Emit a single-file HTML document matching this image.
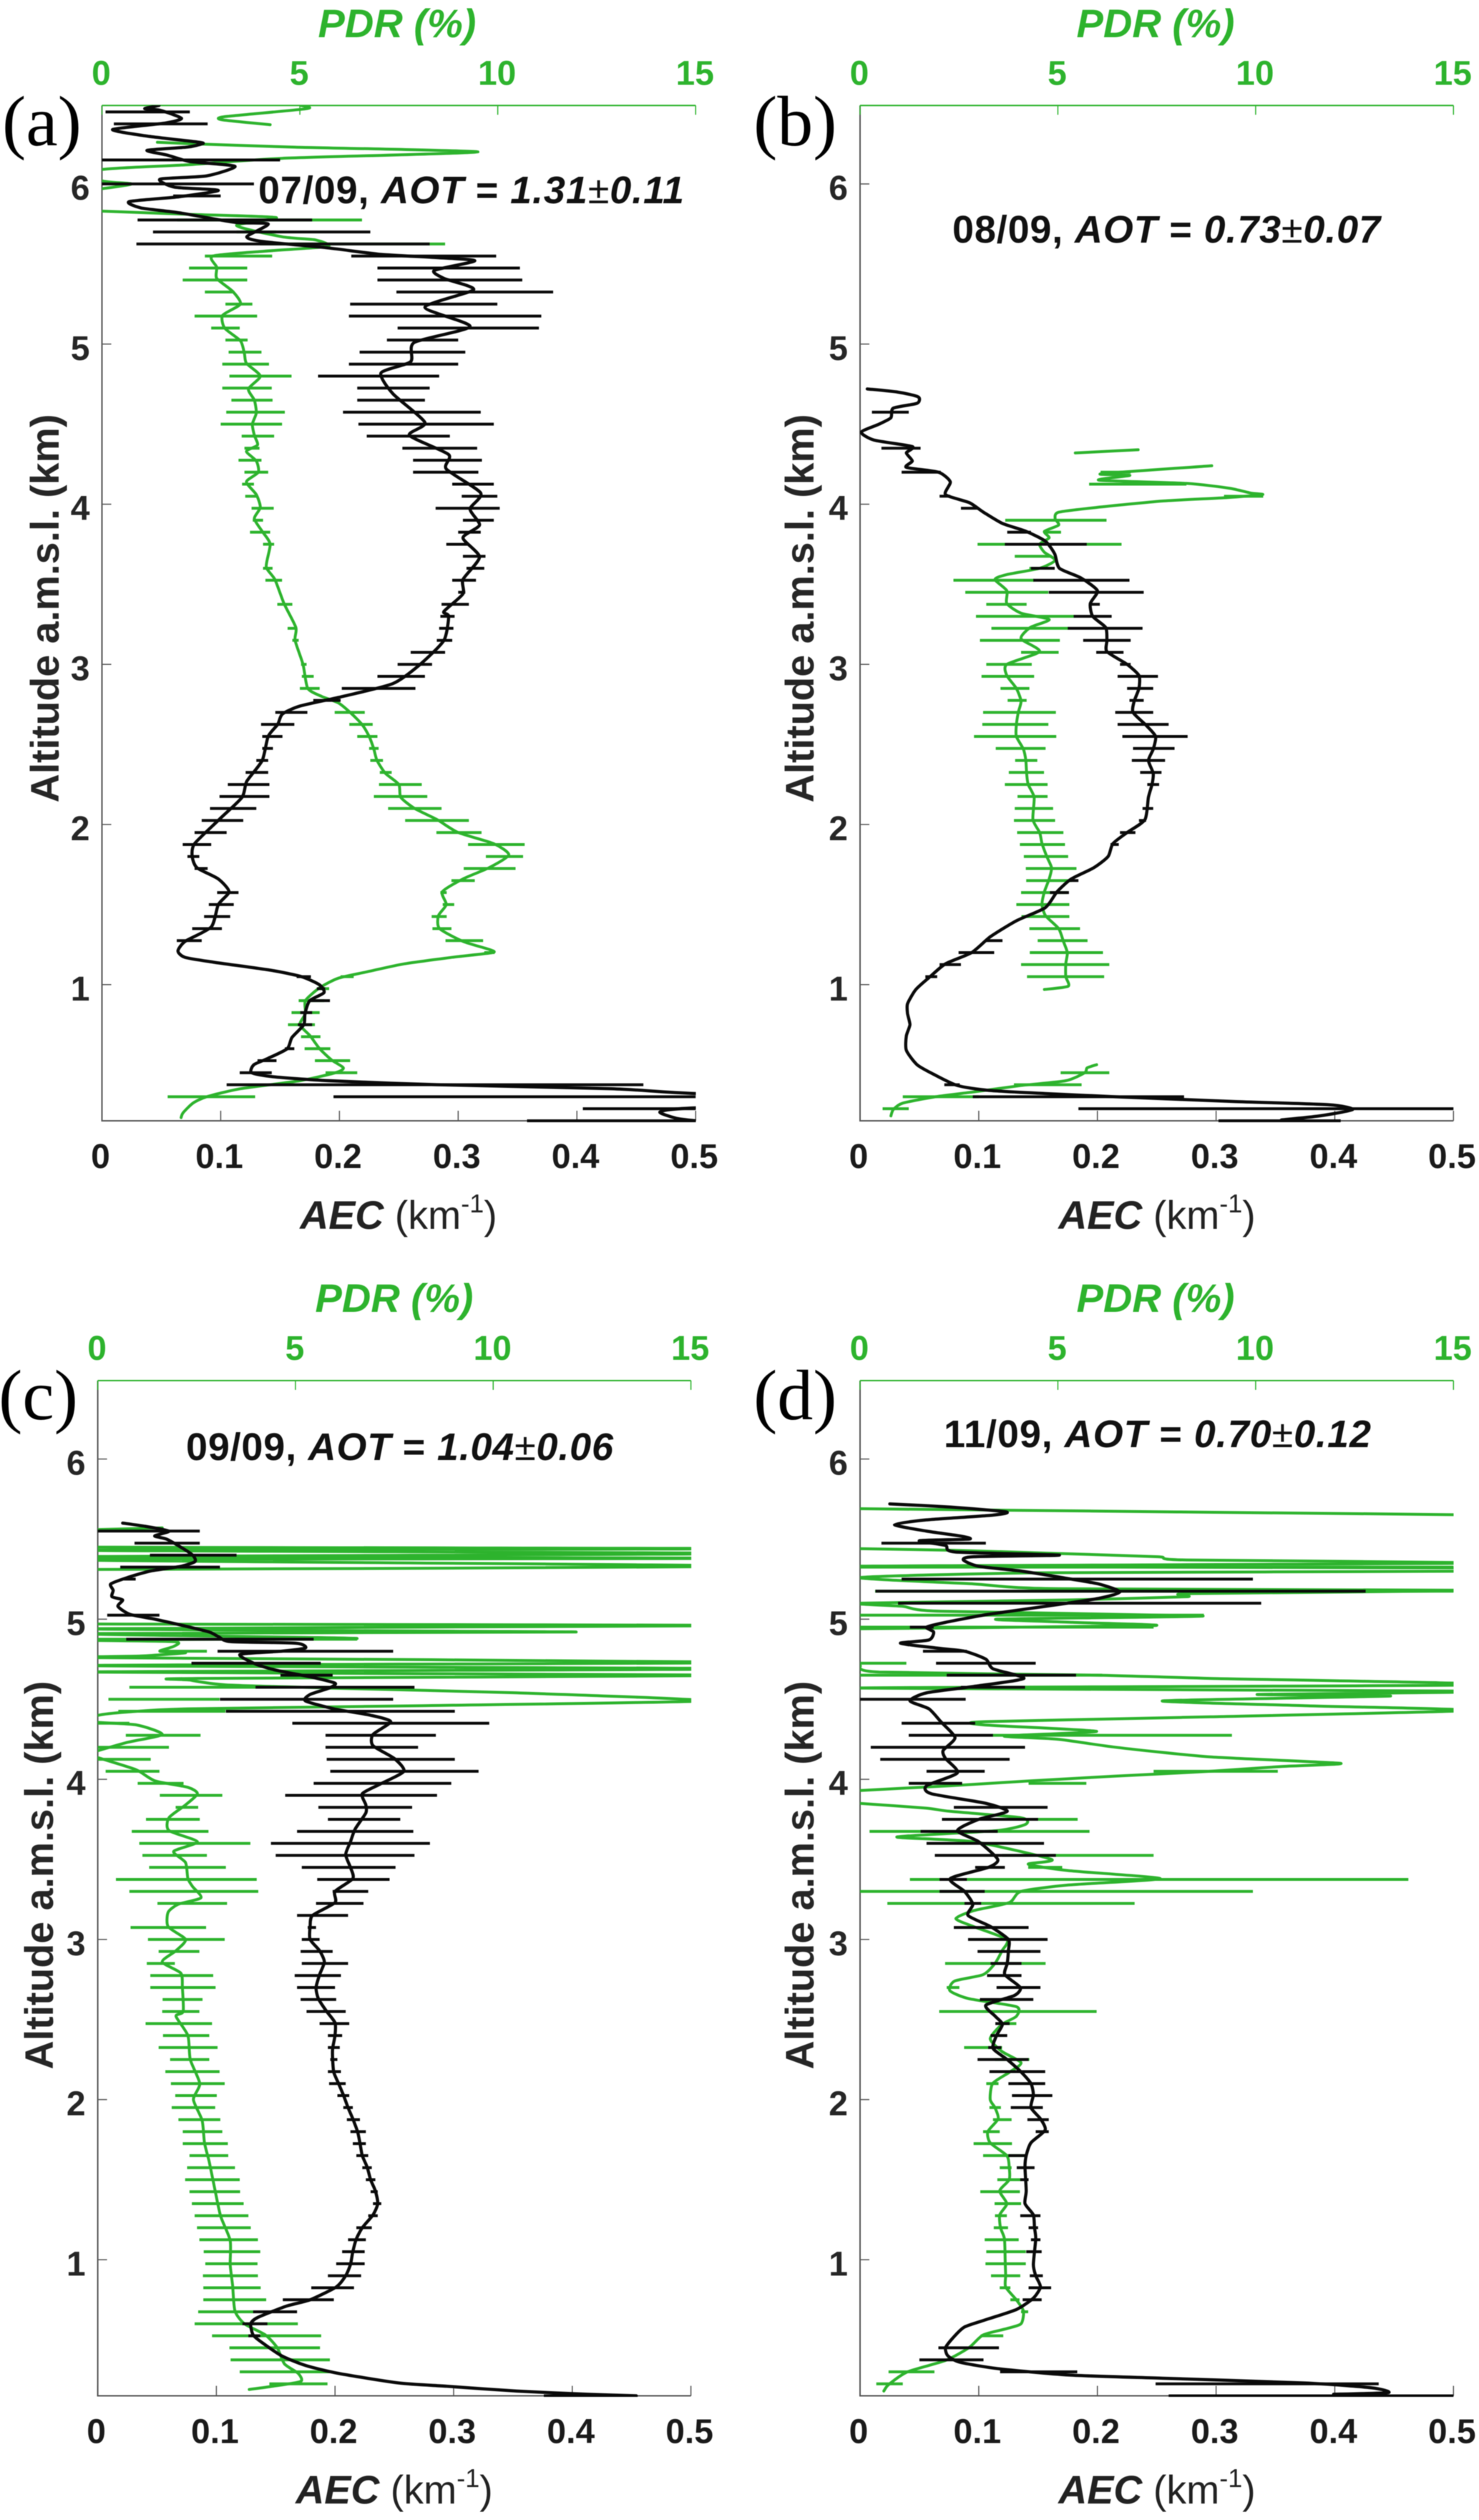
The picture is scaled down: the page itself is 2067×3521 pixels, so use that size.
<!DOCTYPE html>
<html lang="en">
<head>
<meta charset="utf-8">
<title>AEC and PDR vertical profiles</title>
<style>
  html, body { margin: 0; padding: 0; background: #fff; }
  svg { display: block; filter: blur(0.6px); }
  text { font-family: "Liberation Sans", Arial, sans-serif; }
  .panel-label { font-family: "Liberation Serif", "Times New Roman", serif; font-size: 100px; fill: #000; }
  .pdr-title { font-size: 56px; font-weight: bold; font-style: italic; fill: #2db32d; text-anchor: middle; }
  .aec-title { font-size: 55.5px; fill: #222; text-anchor: middle; }
  .alt-title { font-size: 55.5px; font-weight: bold; fill: #262626; text-anchor: middle; }
  .aot { font-size: 54px; font-weight: bold; fill: #111; }
  .tick-alt { font-size: 48px; font-weight: bold; fill: #262626; text-anchor: end; }
  .tick-aec { font-size: 48px; font-weight: bold; fill: #1a1a1a; text-anchor: middle; }
  .tick-pdr { font-size: 48px; font-weight: bold; fill: #2db32d; text-anchor: middle; }
</style>
</head>
<body>
<svg id="figure" xmlns="http://www.w3.org/2000/svg" width="2067" height="3521" viewBox="0 0 2067 3521">
  <rect width="2067" height="3521" fill="#fff"/>
  <defs>
    <clipPath id="clip-a"><rect x="142.5" y="147" width="830" height="1421"/></clipPath>
    <clipPath id="clip-b"><rect x="1202" y="147" width="829.5" height="1421"/></clipPath>
    <clipPath id="clip-c"><rect x="136.6" y="1928" width="829.5" height="1421"/></clipPath>
    <clipPath id="clip-d"><rect x="1202" y="1928" width="829.5" height="1421"/></clipPath>
  </defs>

  <g id="panel-a"></g>
  <g id="panel-b"></g>
  <g id="panel-c"></g>
  <g id="panel-d"></g>

  <text class="panel-label" x="3" y="203">(a)</text>
  <text class="panel-label" x="1053" y="203">(b)</text>
  <text class="panel-label" x="-2" y="1983">(c)</text>
  <text class="panel-label" x="1053" y="1983">(d)</text>

  <text class="pdr-title" x="555" y="52">PDR (%)</text>
  <text class="pdr-title" x="1615" y="52">PDR (%)</text>
  <text class="pdr-title" x="551" y="1833">PDR (%)</text>
  <text class="pdr-title" x="1615" y="1833">PDR (%)</text>

  <text class="aec-title" x="557" y="1717"><tspan font-weight="bold" font-style="italic">AEC</tspan> (km<tspan font-size="36" dy="-23">-1</tspan><tspan dy="23">)</tspan></text>
  <text class="aec-title" x="1617" y="1717"><tspan font-weight="bold" font-style="italic">AEC</tspan> (km<tspan font-size="36" dy="-23">-1</tspan><tspan dy="23">)</tspan></text>
  <text class="aec-title" x="551" y="3498"><tspan font-weight="bold" font-style="italic">AEC</tspan> (km<tspan font-size="36" dy="-23">-1</tspan><tspan dy="23">)</tspan></text>
  <text class="aec-title" x="1617" y="3498"><tspan font-weight="bold" font-style="italic">AEC</tspan> (km<tspan font-size="36" dy="-23">-1</tspan><tspan dy="23">)</tspan></text>

  <text class="alt-title" transform="translate(82 850) rotate(-90)">Altitude a.m.s.l. (km)</text>
  <text class="alt-title" transform="translate(1137 850) rotate(-90)">Altitude a.m.s.l. (km)</text>
  <text class="alt-title" transform="translate(74 2620) rotate(-90)">Altitude a.m.s.l. (km)</text>
  <text class="alt-title" transform="translate(1137 2620) rotate(-90)">Altitude a.m.s.l. (km)</text>

  <text class="aot" x="361" y="284" textLength="595">07/09, <tspan font-style="italic">AOT</tspan> = <tspan font-style="italic">1.31</tspan><tspan font-weight="normal">±</tspan><tspan font-style="italic">0.11</tspan></text>
  <text class="aot" x="1331" y="339" textLength="598">08/09, <tspan font-style="italic">AOT</tspan> = <tspan font-style="italic">0.73</tspan><tspan font-weight="normal">±</tspan><tspan font-style="italic">0.07</tspan></text>
  <text class="aot" x="260" y="2040" textLength="597">09/09, <tspan font-style="italic">AOT</tspan> = <tspan font-style="italic">1.04</tspan><tspan font-weight="normal">±</tspan><tspan font-style="italic">0.06</tspan></text>
  <text class="aot" x="1319" y="2022" textLength="597">11/09, <tspan font-style="italic">AOT</tspan> = <tspan font-style="italic">0.70</tspan><tspan font-weight="normal">±</tspan><tspan font-style="italic">0.12</tspan></text>
</svg>

<script>
// Shared axis ticks
const altTicks = [1, 2, 3, 4, 5, 6];
const aecTicks = [0, 0.1, 0.2, 0.3, 0.4, 0.5];
const aecTickLabels = ['0', '0.1', '0.2', '0.3', '0.4', '0.5'];
const pdrTicks = [0, 5, 10, 15];
const pdrTickLabels = ['0', '5', '10', '15'];

// Panel (a) 07/09
const aAecAlt = [6.49,6.47,6.46,6.41,6.38,6.34,6.30,6.26,6.25,6.23,6.21,6.18,6.14,6.11,6.05,6.03,5.98,5.96,5.92,5.89,5.85,5.82,5.76,5.75,5.67,5.64,5.60,5.56,5.54,5.52,5.46,5.41,5.34,5.23,5.11,5.01,4.89,4.82,4.69,4.51,4.43,4.31,4.22,4.07,3.97,3.87,3.79,3.67,3.53,3.44,3.33,3.30,3.15,3.0,2.88,2.80,2.74,2.69,2.625,2.55,2.40,2.27,2.17,2.04,1.88,1.80,1.73,1.66,1.58,1.50,1.36,1.27,1.21,1.17,1.14,1.09,1.05,1.0,0.95,0.90,0.82,0.75,0.67,0.60,0.54,0.50,0.45,0.425,0.40,0.375,0.35,0.32,0.27,0.23,0.205,0.165,0.15];
const aAecVal = [0.048,0.036,0.049,0.067,0.053,0.009,0.037,0.082,0.084,0.072,0.038,0.055,0.074,0.112,0.088,0.049,0.061,0.098,0.065,0.023,0.033,0.065,0.112,0.14,0.122,0.136,0.191,0.235,0.282,0.314,0.28,0.288,0.313,0.272,0.31,0.263,0.26,0.235,0.245,0.272,0.259,0.292,0.29,0.319,0.31,0.318,0.304,0.318,0.304,0.304,0.288,0.292,0.288,0.268,0.245,0.203,0.167,0.152,0.148,0.14,0.135,0.122,0.118,0.10,0.078,0.076,0.08,0.098,0.107,0.098,0.092,0.07,0.064,0.07,0.094,0.142,0.168,0.183,0.187,0.175,0.171,0.17,0.16,0.156,0.14,0.128,0.126,0.144,0.191,0.282,0.429,0.5,0.7,0.5,0.47,0.484,0.5];
const aAecBarAlt = [6.45,6.375,6.15,6.0,5.925,5.775,5.7,5.625,5.55,5.475,5.4,5.325,5.25,5.175,5.1,5.025,4.95,4.875,4.8,4.725,4.65,4.575,4.5,4.425,4.35,4.275,4.2,4.125,4.05,3.975,3.9,3.825,3.75,3.675,3.6,3.525,3.45,3.375,3.3,3.225,3.15,3.075,3.0,2.925,2.85,2.775,2.7,2.625,2.55,2.475,2.4,2.325,2.25,2.175,2.1,2.025,1.95,1.875,1.8,1.725,1.575,1.5,1.425,1.35,1.275,1.05,0.975,0.9,0.825,0.75,0.6,0.525,0.45,0.375,0.3,0.225,0.15];
const aAecBarLow = [0.003,0.01,0,0,0.06,0.03,0.043,0.029,0.21,0.232,0.232,0.248,0.209,0.208,0.249,0.24,0.217,0.208,0.182,0.215,0.215,0.203,0.216,0.223,0.253,0.262,0.262,0.295,0.303,0.281,0.304,0.30,0.29,0.304,0.307,0.295,0.30,0.286,0.285,0.284,0.282,0.26,0.249,0.232,0.202,0.178,0.146,0.134,0.135,0.135,0.13,0.121,0.106,0.099,0.091,0.084,0.078,0.068,0.072,0.078,0.097,0.09,0.086,0.076,0.063,0.164,0.181,0.175,0.167,0.165,0.154,0.131,0.116,0.105,0.195,0.405,0.358];
const aAecBarHigh = [0.074,0.089,0.15,0.128,0.10,0.177,0.226,0.276,0.332,0.352,0.354,0.38,0.333,0.37,0.368,0.30,0.306,0.30,0.284,0.276,0.272,0.319,0.33,0.293,0.316,0.32,0.317,0.33,0.333,0.335,0.33,0.319,0.309,0.323,0.322,0.315,0.306,0.309,0.297,0.296,0.295,0.289,0.278,0.272,0.264,0.201,0.173,0.162,0.152,0.144,0.14,0.14,0.141,0.141,0.13,0.119,0.105,0.092,0.082,0.089,0.115,0.111,0.108,0.101,0.084,0.176,0.188,0.192,0.177,0.177,0.162,0.147,0.143,0.456,0.5,0.5,0.5];
const aPdrAlt = [6.49,6.47,6.42,6.40,6.37,null,6.26,6.25,6.23,6.2,6.16,6.12,6.09,6.02,6.0,5.97,null,5.83,5.81,5.79,5.74,5.67,5.65,5.61,5.58,5.55,5.48,5.41,5.33,5.25,5.18,5.1,5.02,4.94,4.88,4.8,4.72,4.65,4.57,4.5,4.43,4.37,4.33,4.27,4.2,4.14,4.06,3.98,3.91,3.83,3.75,3.61,3.53,3.38,3.23,3.15,3,2.85,2.8,2.76,2.7,2.625,2.55,2.47,2.4,2.32,2.25,2.17,2.1,2.03,1.95,1.88,1.81,1.73,1.66,1.58,1.5,1.43,1.35,1.27,1.22,1.2,1.17,1.13,1.08,1.04,0.98,0.9,0.82,0.75,0.68,0.6,0.53,0.48,0.45,0.4,0.35,0.3,0.26,0.2,0.17];
const aPdrVal = [5.03,5.18,3.1,3.05,4.25,null,1.4,2.4,4.8,9.5,4.55,2.2,0,0,0.75,0,null,0,2.2,4.4,3.4,4.55,5.4,5.7,4.1,2.8,2.9,2.9,3.3,3.5,3.05,3.1,3.5,3.6,3.65,4,3.7,3.85,3.9,3.8,3.85,3.93,3.65,3.9,3.95,3.65,3.9,4.0,3.85,4.05,4.25,4.15,4.37,4.6,4.9,4.88,5.08,5.2,5.55,5.97,6.27,6.57,6.75,6.87,6.95,7.16,7.5,7.55,7.9,8.47,9.0,9.9,10.28,9.78,9.12,8.6,8.7,8.5,8.53,9.12,9.78,9.87,8.83,7.64,6.7,5.97,5.5,5.14,5.14,5.0,5.26,5.5,5.8,6.1,5.9,5.0,3.5,2.65,2.3,2.05,2.0];
const aPdrBarAlt = [5.775,5.7,5.625,5.55,5.475,5.4,5.325,5.25,5.175,5.1,5.025,4.95,4.875,4.8,4.725,4.65,4.575,4.5,4.425,4.35,4.275,4.2,4.125,4.05,3.975,3.9,3.825,3.75,3.6,3.525,3.375,3.225,3.15,3.0,2.925,2.85,2.7,2.625,2.55,2.475,2.4,2.325,2.25,2.175,2.1,2.025,1.95,1.875,1.8,1.725,1.65,1.575,1.5,1.425,1.35,1.275,1.2,1.05,0.975,0.9,0.825,0.75,0.675,0.6,0.525,0.45,0.3];
const aPdrBarLow = [1.9,3.4,4,2.6,2.2,2.04,2.6,3.12,2.34,2.76,3.12,3.2,3.04,3.22,3.04,3.27,3.14,3.0,3.53,3.6,3.45,3.6,3.54,3.62,3.78,3.81,3.74,4.07,4.07,4.13,4.43,4.69,4.81,5.03,5.05,5,5.88,6.25,6.45,6.75,6.78,7.02,7.0,6.87,7.23,7.66,8.45,9.25,9.7,9.14,8.83,8.55,8.61,8.33,8.35,8.68,9.66,6.03,5.5,4.97,4.79,4.7,5.03,5.12,5.38,5.65,1.66];
const aPdrBarHigh = [6.57,4.4,8.67,4.3,3.67,3.67,3.34,3.8,3.92,3.48,3.68,4.03,4.22,4.79,4.29,4.31,4.62,4.55,4.35,3.98,4.03,4.2,3.84,3.93,4.34,4.07,4.25,4.35,4.31,4.55,4.81,4.93,4.97,5.17,5.35,5.5,6.64,6.84,6.96,6.99,7.1,7.32,8.08,8.22,8.58,9.27,9.59,10.68,10.64,10.45,9.42,8.71,8.9,8.71,8.83,9.63,9.92,6.36,5.74,5.62,5.5,5.38,5.52,5.77,6.27,6.45,3.87];

// Panel (b) 08/09
const bAecAlt = [4.72,4.70,4.67,4.63,4.6,4.54,4.5,4.45,4.4,4.36,4.32,4.27,4.23,4.2,4.14,4.06,4.01,3.95,3.88,3.83,3.77,3.69,3.6,3.54,3.46,3.38,3.3,3.23,3.15,3.08,3,2.93,2.85,2.77,2.7,2.62,2.55,2.47,2.4,2.32,2.25,2.17,2.03,1.95,1.88,1.8,1.73,1.66,1.58,1.48,1.4,1.3,1.2,1.13,1.05,0.97,0.88,0.82,0.75,0.68,0.59,0.5,0.44,0.37,0.34,0.32,0.3,0.27,0.25,0.22,0.18,0.155];
const bAecVal = [0.006,0.032,0.049,0.048,0.028,0.026,0.016,0.001,0.012,0.044,0.039,0.044,0.039,0.066,0.076,0.072,0.092,0.104,0.12,0.14,0.156,0.164,0.168,0.186,0.2,0.194,0.196,0.207,0.208,0.208,0.225,0.235,0.235,0.231,0.23,0.241,0.249,0.247,0.243,0.247,0.246,0.243,0.24,0.225,0.213,0.209,0.197,0.178,0.166,0.156,0.132,0.11,0.094,0.072,0.059,0.047,0.04,0.04,0.042,0.039,0.039,0.048,0.062,0.082,0.108,0.156,0.215,0.315,0.395,0.415,0.387,0.355];
const bAecBarAlt = [4.575,4.35,4.2,4.05,3.975,3.825,3.75,3.6,3.525,3.45,3.375,3.3,3.225,3.15,3.075,3.0,2.925,2.85,2.775,2.7,2.625,2.55,2.475,2.4,2.325,2.25,2.1,2.025,1.95,1.875,1.65,1.575,1.275,1.2,1.125,1.05,0.375,0.3,0.225,0.15];
const bAecBarLow = [0.01,0.018,0.035,0.067,0.085,0.124,0.122,0.144,0.146,0.159,0.194,0.18,0.175,0.188,0.199,0.219,0.217,0.225,0.227,0.215,0.217,0.221,0.23,0.229,0.236,0.242,0.238,0.235,0.219,0.211,0.176,0.16,0.106,0.083,0.067,0.055,0.071,0.095,0.184,0.302];
const bAecBarHigh = [0.041,0.051,0.068,0.076,0.1,0.144,0.191,0.164,0.227,0.239,0.202,0.212,0.238,0.228,0.222,0.228,0.251,0.247,0.239,0.247,0.26,0.276,0.265,0.257,0.254,0.252,0.247,0.241,0.232,0.218,0.184,0.176,0.12,0.113,0.085,0.065,0.084,0.273,0.5,0.405];
const bPdrAlt = [4.34,4.32,null,4.24,4.19,4.18,4.15,4.13,4.1,4.07,4.06,4.04,4.02,3.98,3.95,3.91,3.87,3.83,3.79,3.75,3.7,3.65,3.6,3.56,3.53,3.46,3.38,3.32,3.28,3.23,3.16,3.08,3,2.93,2.85,2.77,2.7,2.62,2.55,2.47,2.4,2.32,2.25,2.17,2.03,1.95,1.88,1.8,1.73,1.66,1.58,1.5,1.43,1.35,1.27,1.2,1.13,1.05,0.99,0.97,null,0.5,0.48,0.45,0.4,0.37,0.33,0.3,0.26,0.22,0.18];
const bPdrVal = [7.03,5.44,null,8.89,6.1,6.82,6.04,8.25,9.33,9.87,10.17,9.2,7.65,5.98,5.02,4.93,5.02,4.66,4.78,4.54,4.66,4.93,4.54,3.7,3.41,3.71,3.71,4.07,4.78,4.3,4.07,4.54,3.71,3.71,3.95,4.07,4.0,3.95,3.95,4.13,4.19,4.21,4.25,4.4,4.37,4.54,4.6,4.72,4.84,4.78,4.66,4.6,4.69,5.02,5.14,5.24,5.2,5.2,5.26,4.66,null,5.98,5.74,5.68,5.2,4.07,2.87,1.91,1.08,0.84,0.78];
const bPdrBarAlt = [4.2,4.125,4.05,3.9,3.825,3.75,3.675,3.6,3.525,3.45,3.375,3.3,3.225,3.15,3.075,3.0,2.925,2.85,2.775,2.7,2.625,2.55,2.475,2.4,2.325,2.25,2.175,2.1,2.025,1.95,1.875,1.8,1.725,1.65,1.575,1.5,1.425,1.35,1.275,1.2,1.125,1.05,0.45,0.375,0.3,0.225];
const bPdrBarLow = [6.08,5.79,9.2,3.67,4.66,2.97,3.91,4.28,2.36,2.66,3.19,2.93,3.32,3.03,4.07,3.19,3.07,3.55,3.73,3.11,3.09,2.88,3.43,3.92,3.76,3.66,3.98,3.91,3.89,3.97,4.04,4.14,4.19,4.2,4.07,3.95,4.08,4.28,4.49,4.29,4.07,4.22,5.07,3.89,1.08,0.57];
const bPdrBarHigh = [6.84,8.25,10.19,6.23,5.08,6.61,4.84,4.9,4.4,4.76,4.21,5.41,5.26,5.05,5.02,4.34,4.4,4.28,4.21,4.95,4.76,4.96,4.69,4.48,4.65,4.74,4.74,4.88,4.93,5.14,5.18,5.26,5.47,5.35,5.24,5.29,5.29,5.56,5.75,6.14,6.3,6.17,6.3,5.6,3,1.23];

// Panel (c) 09/09
const cAecAlt = [5.6,5.58,5.55,5.52,5.5,5.45,5.4,5.36,5.33,5.3,5.26,5.22,5.18,5.14,5.12,5.08,5.03,5.0,4.96,4.92,4.89,4.86,4.85,4.82,4.8,4.78,4.72,4.68,4.64,4.6,4.57,4.53,4.49,4.44,4.4,4.36,4.28,4.21,4.13,4.05,3.97,3.91,3.84,3.79,3.69,3.61,3.53,3.45,3.38,3.3,3.23,3.15,3.08,3,2.93,2.86,2.78,2.7,2.63,2.55,2.48,2.4,2.32,2.25,2.17,2.1,2.03,1.95,1.88,1.8,1.73,1.65,1.58,1.5,1.43,1.35,1.28,1.2,1.13,1.05,0.97,0.9,0.83,0.75,0.71,0.64,0.6,0.53,0.48,0.4,0.34,0.29,0.23,0.21,0.18,0.16,0.15];
const cAecVal = [0.021,0.04,0.06,0.048,0.058,0.07,0.08,0.082,0.07,0.044,0.025,0.011,0.013,0.012,0.021,0.017,0.027,0.048,0.072,0.094,0.102,0.112,0.167,0.175,0.155,0.12,0.133,0.151,0.179,0.2,0.195,0.179,0.175,0.199,0.23,0.247,0.232,0.232,0.25,0.258,0.238,0.223,0.226,0.226,0.217,0.213,0.209,0.213,0.215,0.2,0.2,0.181,0.179,0.179,0.187,0.191,0.187,0.184,0.186,0.193,0.2,0.2,0.198,0.198,0.199,0.203,0.207,0.211,0.215,0.219,0.221,0.223,0.227,0.23,0.234,0.236,0.232,0.223,0.218,0.215,0.213,0.209,0.201,0.179,0.159,0.135,0.129,0.131,0.139,0.155,0.175,0.203,0.254,0.294,0.353,0.413,0.454];
const cAecBarAlt = [5.55,5.475,5.4,5.325,5.25,5.025,4.875,4.8,4.725,4.65,4.575,4.5,4.425,4.35,4.275,4.2,4.125,4.05,3.975,3.9,3.825,3.75,3.675,3.6,3.525,3.45,3.375,3.3,3.225,3.15,3.075,3.0,2.925,2.85,2.775,2.7,2.625,2.55,2.475,2.4,2.325,2.25,2.175,2.1,2.025,1.95,1.875,1.8,1.725,1.65,1.575,1.5,1.425,1.35,1.275,1.2,1.125,1.05,0.975,0.9,0.825,0.75,0.675,0.6,0.525,0.15];
const cAecBarLow = [0,0.031,0.044,0.019,0.022,0.008,0.024,0.101,0.079,0.154,0.133,0.103,0.108,0.164,0.192,0.192,0.193,0.196,0.182,0.158,0.186,0.194,0.168,0.146,0.15,0.172,0.185,0.198,0.184,0.168,0.177,0.172,0.171,0.172,0.166,0.168,0.171,0.176,0.187,0.194,0.194,0.196,0.194,0.195,0.202,0.207,0.21,0.213,0.215,0.218,0.223,0.226,0.23,0.232,0.228,0.218,0.211,0.206,0.201,0.194,0.18,0.156,0.131,0.122,0.127,0.376];
const cAecBarHigh = [0.086,0.086,0.117,0.103,0.032,0.052,0.182,0.249,0.188,0.198,0.267,0.249,0.301,0.33,0.285,0.27,0.301,0.321,0.298,0.286,0.265,0.255,0.266,0.28,0.267,0.251,0.246,0.228,0.224,0.211,0.184,0.187,0.198,0.211,0.205,0.2,0.201,0.209,0.212,0.206,0.204,0.202,0.205,0.209,0.212,0.215,0.221,0.226,0.226,0.228,0.231,0.234,0.236,0.239,0.236,0.231,0.226,0.225,0.225,0.222,0.216,0.199,0.168,0.143,0.137,0.454];
const cPdrAlt = [5.56,5.57,null,5.45,5.44,5.43,5.41,5.39,5.38,5.37,5.33,5.31,null,4.97,4.96,4.94,4.92,4.91,4.88,4.87,4.86,4.83,4.8,4.79,4.77,4.76,4.73,4.71,4.69,4.67,4.65,4.63,4.62,4.59,4.57,4.54,4.49,4.46,4.44,4.42,4.4,4.36,4.34,4.28,4.23,4.16,4.13,4.06,3.99,3.95,3.91,3.84,3.76,3.68,3.61,3.55,3.48,3.38,3.33,3.26,3.22,3.17,3.08,3,2.93,2.86,2.79,2.7,2.55,2.52,2.4,2.25,2.1,2.0,1.87,1.73,1.61,1.43,1.27,1.12,0.97,0.84,0.68,0.6,0.53,0.45,0.35,0.29,0.24,0.21,0.19];
const cPdrVal = [0.02,1.63,null,-0.5,17,-0.5,17,-0.5,17,-0.5,17,-0.5,null,-0.5,17,-0.5,12.1,-0.5,6.56,-0.5,1.92,1.92,1.57,2.22,1.09,0.02,17,-0.5,17,-0.5,17,2.52,2.34,3.23,5.85,10.6,15.3,8.2,2.28,0.74,0.02,-0.2,0.97,1.63,0.74,-0.2,0.08,0.97,1.45,2.28,2.52,2.22,1.8,1.8,2.52,1.92,2.22,2.28,2.4,2.61,2.04,1.78,1.78,2.22,1.98,1.63,2.1,2.14,2.16,1.98,2.28,2.34,2.58,2.42,2.64,2.7,2.82,2.97,3.11,3.35,3.35,3.41,3.47,3.71,4.24,4.54,4.72,5.07,5.13,4.42,3.83];
const cPdrBarAlt = [4.875,4.8,4.575,4.5,4.425,4.35,4.275,4.2,4.125,4.05,3.975,3.9,3.825,3.75,3.675,3.6,3.525,3.45,3.375,3.3,3.225,3.075,3.0,2.925,2.85,2.775,2.7,2.625,2.55,2.475,2.4,2.325,2.25,2.175,2.1,2.025,1.95,1.875,1.8,1.725,1.65,1.575,1.5,1.425,1.35,1.275,1.2,1.125,1.05,0.975,0.9,0.825,0.75,0.675,0.6,0.525,0.45,0.375,0.3,0.225];
const cPdrBarLow = [0,1.57,0.8,0.27,0.52,0,0.71,0,0,0.2,1.01,1.57,1.97,1.22,0.86,1.05,1.13,1.3,0.46,0.8,1.51,0.83,1.27,1.54,1.24,1.33,1.33,1.64,1.63,1.21,1.65,1.54,1.83,1.71,1.85,1.96,1.87,2.04,2.15,2.15,2.32,2.26,2.21,2.32,2.38,2.45,2.51,2.57,2.68,2.72,2.66,2.67,2.67,2.54,2.45,2.89,3.33,3.36,3.59,4.34];
const cPdrBarHigh = [6.56,2.76,4,3.08,3.23,0.8,2.6,1.8,1.34,1.56,2.17,3.15,2.54,2.58,2.8,3.86,2.76,3.24,4.02,4.06,3.27,2.74,3.21,2.57,1.95,2.92,2.98,2.65,2.57,2.89,2.82,3.03,2.82,3.08,3.21,3.01,2.97,3.1,3.15,3.29,3.3,3.47,3.59,3.6,3.69,3.81,3.87,4.05,4.11,4.04,4.05,4.12,4.26,3.94,5.06,5.65,5.62,5.87,5.93,5.81];

// Panel (d) 11/09
const dAecAlt = [5.72,5.7,5.67,5.65,5.62,5.59,5.55,5.52,5.5,5.49,5.46,5.42,5.4,5.39,5.37,5.33,5.3,5.26,5.22,5.17,5.13,5.08,5.03,4.98,4.95,4.92,4.87,4.85,4.82,4.8,4.75,4.69,4.63,4.58,4.54,4.49,4.44,4.36,4.26,4.18,4.13,4.04,3.96,3.91,3.85,3.8,3.75,3.68,3.61,3.5,3.45,3.38,3.3,3.22,3.15,3.08,3,2.93,2.85,2.78,2.7,2.65,2.59,2.52,2.47,2.4,2.32,2.25,2.17,2.1,2.03,1.95,1.88,1.81,1.73,1.65,1.58,1.43,1.35,1.28,1.2,1.13,0.97,0.9,0.83,0.76,0.69,0.63,0.58,0.51,0.45,0.4,0.36,0.32,0.28,0.26,0.23,0.2,0.17,0.16];
const dAecVal = [0.025,0.076,0.123,0.112,0.056,0.029,0.056,0.084,0.092,0.05,0.072,0.08,0.168,0.096,0.087,0.1,0.136,0.17,0.201,0.219,0.201,0.156,0.108,0.072,0.056,0.062,0.058,0.034,0.064,0.088,0.106,0.112,0.138,0.096,0.056,0.042,0.058,0.068,0.08,0.07,0.072,0.082,0.056,0.06,0.106,0.124,0.1,0.082,0.1,0.116,0.108,0.076,0.088,0.095,0.091,0.11,0.125,0.125,0.124,0.122,0.135,0.13,0.106,0.114,0.12,0.115,0.112,0.124,0.136,0.144,0.146,0.144,0.152,0.156,0.144,0.14,0.139,0.14,0.139,0.146,0.147,0.148,0.146,0.148,0.152,0.146,0.132,0.108,0.088,0.078,0.072,0.074,0.084,0.116,0.176,0.255,0.375,0.431,0.445,0.399];
const dAecBarAlt = [5.475,5.25,5.175,5.1,4.95,4.8,4.725,4.65,4.575,4.5,4.35,4.275,4.2,4.125,4.05,3.975,3.825,3.75,3.675,3.6,3.525,3.45,3.375,3.3,3.225,3.075,3.0,2.925,2.85,2.775,2.7,2.625,2.475,2.4,2.325,2.25,2.175,2.1,2.025,1.95,1.875,1.8,1.65,1.575,1.5,1.275,1.2,1.125,1.05,0.9,0.825,0.75,0.45,0.375,0.3,0.225,0.15];
const dAecBarLow = [0.018,0.035,0.013,0.032,0.042,0.053,0.064,0.073,0.085,0,0.035,0.041,0.009,0.017,0.056,0.041,0.079,0.069,0.051,0.056,0.063,0.097,0.067,0.067,0.088,0.079,0.091,0.099,0.11,0.107,0.115,0.101,0.114,0.11,0.108,0.099,0.109,0.125,0.128,0.127,0.141,0.148,0.125,0.132,0.135,0.135,0.142,0.144,0.14,0.143,0.142,0.137,0.066,0.05,0.118,0.249,0.26];
const dAecBarHigh = [0.106,0.331,0.426,0.338,0.062,0.09,0.148,0.182,0.139,0.089,0.097,0.112,0.139,0.126,0.105,0.086,0.158,0.15,0.116,0.155,0.165,0.122,0.09,0.105,0.102,0.142,0.158,0.152,0.136,0.136,0.152,0.146,0.126,0.124,0.119,0.142,0.156,0.156,0.162,0.154,0.159,0.159,0.14,0.147,0.142,0.152,0.15,0.152,0.153,0.154,0.161,0.153,0.117,0.104,0.183,0.437,0.5];
const dPdrAlt = [5.69,5.65,null,5.44,5.43,5.41,5.39,5.37,5.35,5.33,5.32,5.3,5.29,5.26,5.22,5.19,5.18,5.16,5.14,5.12,5.1,5.08,5.05,5.02,5,4.98,4.96,4.94,null,4.71,4.67,4.65,4.63,4.59,4.57,4.55,4.53,4.52,4.49,4.46,4.43,4.39,4.36,4.34,4.3,4.27,4.25,4.2,4.14,4.1,4.08,4.05,4.02,3.99,3.96,3.93,null,3.85,3.82,3.8,3.76,3.72,3.68,3.64,3.61,3.5,3.47,3.43,3.38,3.34,3.3,3.23,3.18,3.13,3.08,3,2.93,2.85,2.78,2.74,2.68,2.63,2.58,2.52,2.47,2.38,2.3,2.23,2.17,2.1,2.0,1.95,1.88,1.8,1.73,1.65,1.58,1.5,1.43,1.35,1.28,1.2,1.13,0.98,0.9,0.83,0.75,0.68,0.6,0.57,0.53,0.45,0.37,0.3,0.22,0.18];
const dPdrVal = [0,16,null,0,2.39,5.02,7.53,8.25,16,-0.3,16,16,4.66,0,2.87,5.02,16,8.37,8.25,5.26,0,1.08,2.03,8.67,3.47,5.38,7.4,0,null,0,0.48,6.1,8.85,16,-0.3,16,10.05,13.4,7.65,11.24,15.4,8.85,3.17,3.11,5.98,3.65,5.02,6.46,8.85,12.14,10.64,8.85,6.46,4.31,2.27,0,null,0,1.67,2.27,4.07,4.19,3.47,0.93,2.87,4.84,4.25,5.26,7.59,5.26,4.07,3.77,2.87,2.42,2.87,3.71,3.59,3.41,3.11,2.39,2.27,2.75,3.95,3.95,3.59,3.29,3.59,4.07,3.77,3.35,3.29,3.41,3.49,3.23,3.29,3.71,3.77,3.77,3.53,3.71,3.53,3.55,3.65,3.67,3.68,3.68,3.95,4.13,4.07,3.71,3.11,2.75,2.15,1.2,0.72,0.6];
const dPdrBarAlt = [5.325,5.175,5.025,4.95,4.725,4.65,4.275,4.05,3.975,3.75,3.675,3.525,3.45,3.375,3.3,3.225,2.85,2.7,2.55,2.475,2.325,2.25,2.1,1.95,1.875,1.8,1.725,1.65,1.575,1.5,1.425,1.35,1.275,1.2,1.125,1.05,0.975,0.9,0.825,0.75,0.675,0.525,0.3,0.225];
const dPdrBarLow = [0,0.38,0,0,0,0,3.35,7.42,4.26,3,0.24,3.59,4.25,1.26,0,0.69,2.15,2.19,2.0,3.59,2.63,3.41,3.19,3.27,3.36,3.11,2.87,3.11,3.53,3.47,3.04,3.4,3.41,3.38,3.15,3.19,3.17,3.31,3.53,3.8,4.07,3.05,0.72,0.41];
const dPdrBarHigh = [15,15,8.69,7.42,1.17,6.12,9.4,10.56,5.72,5.5,5.8,7.42,5.11,13.86,9.93,6.94,4.69,2.51,5.98,3.95,3.59,4.28,3.5,3.56,3.83,3.53,3.84,4.19,3.83,4.07,4.04,4.07,3.71,3.74,4.01,4.19,4.19,4.05,3.8,4.03,4.25,3.62,1.88,1.08];

// Axis domains
const altMin = 0.15;
const aecMax = 0.5;
const pdrMax = 15;
const pxPerKm = 223.75;

const SVG_NS = 'http://www.w3.org/2000/svg';
const GREEN = '#2db32d';
const BLACK = '#0a0a0a';

function svgEl(tag, attrs) {
  const el = document.createElementNS(SVG_NS, tag);
  for (const k in attrs) el.setAttribute(k, attrs[k]);
  return el;
}

function curvePath(alts, vals, xFn, yFn) {
  let d = '';
  let seg = [];
  const flush = function () {
    if (seg.length > 1) {
      d += 'M' + seg[0][0].toFixed(1) + ' ' + seg[0][1].toFixed(1);
      for (let i = 0; i < seg.length - 1; i++) {
        const p0 = seg[Math.max(i - 1, 0)];
        const p1 = seg[i];
        const p2 = seg[i + 1];
        const p3 = seg[Math.min(i + 2, seg.length - 1)];
        const c1x = p1[0] + (p2[0] - p0[0]) / 9;
        const c1y = p1[1] + (p2[1] - p0[1]) / 9;
        const c2x = p2[0] - (p3[0] - p1[0]) / 9;
        const c2y = p2[1] - (p3[1] - p1[1]) / 9;
        d += 'C' + c1x.toFixed(1) + ' ' + c1y.toFixed(1) + ' ' + c2x.toFixed(1) + ' ' + c2y.toFixed(1) + ' ' + p2[0].toFixed(1) + ' ' + p2[1].toFixed(1);
      }
    }
    seg = [];
  };
  for (let i = 0; i < alts.length; i++) {
    if (alts[i] === null || vals[i] === null) { flush(); continue; }
    seg.push([xFn(vals[i]), yFn(alts[i])]);
  }
  flush();
  return d;
}

function drawPanel(id, left, right, yZero, s) {
  const root = document.getElementById('panel-' + id);
  const width = right - left;
  const xAec = function (v) { return left + v / aecMax * width; };
  const xPdr = function (v) { return left + v / pdrMax * width; };
  const yAlt = function (a) { return yZero - a * pxPerKm; };
  const bottom = yAlt(altMin);
  const top = yAlt(6.49);

  // Axis lines
  const leftAxis = svgEl('line', { x1: left, x2: left, y1: top, y2: bottom, stroke: '#555', 'stroke-width': 2 });
  
  
  root.appendChild(leftAxis);

  const bottomAxis = svgEl('line', { x1: left - 1, x2: right, y1: bottom, y2: bottom, stroke: '#555', 'stroke-width': 2 });
  
  
  root.appendChild(bottomAxis);

  const topAxis = svgEl('line', { x1: left, x2: right, y1: top, y2: top, stroke: GREEN, 'stroke-width': 2 });
  
  
  root.appendChild(topAxis);

  altTicks.forEach(function (t) {
    const tick = svgEl('line', { x1: left, x2: left + 13, y1: yAlt(t), y2: yAlt(t), stroke: '#555', 'stroke-width': 1.5 });
    
    
    root.appendChild(tick);
    const label = svgEl('text', { class: 'tick-alt', x: left - 17, y: yAlt(t) + 22 });
    label.textContent = String(t);
    
    
    root.appendChild(label);
  });

  aecTicks.forEach(function (t, i) {
    const tick = svgEl('line', { x1: xAec(t), x2: xAec(t), y1: bottom, y2: bottom - 14, stroke: '#555', 'stroke-width': 1.5 });
    
    
    root.appendChild(tick);
    const label = svgEl('text', { class: 'tick-aec', x: xAec(t) - 2, y: bottom + 66 });
    label.textContent = aecTickLabels[i];
    
    
    root.appendChild(label);
  });

  pdrTicks.forEach(function (t, i) {
    const tick = svgEl('line', { x1: xPdr(t), x2: xPdr(t), y1: top, y2: top + 13, stroke: GREEN, 'stroke-width': 1.5 });
    
    
    root.appendChild(tick);
    const label = svgEl('text', { class: 'tick-pdr', x: xPdr(t) - 1, y: top - 29 });
    label.textContent = pdrTickLabels[i];
    
    
    root.appendChild(label);
  });

  const plot = svgEl('g', { 'clip-path': 'url(#clip-' + id + ')' });
  
  
  root.appendChild(plot);

  // PDR (green) drawn under AEC (black)
  s.pdrBarAlt.forEach(function (a, i) {
    const bar = svgEl('line', { x1: xPdr(s.pdrBarLow[i]), x2: xPdr(s.pdrBarHigh[i]), y1: yAlt(a), y2: yAlt(a), stroke: GREEN, 'stroke-width': 4 });
    
    
    plot.appendChild(bar);
  });
  const pdrLine = svgEl('path', { d: curvePath(s.pdrAlt, s.pdrVal, xPdr, yAlt), fill: 'none', stroke: GREEN, 'stroke-width': 4, 'stroke-linejoin': 'round', 'stroke-linecap': 'round' });
  
  
  plot.appendChild(pdrLine);

  s.aecBarAlt.forEach(function (a, i) {
    const bar = svgEl('line', { x1: xAec(s.aecBarLow[i]), x2: xAec(s.aecBarHigh[i]), y1: yAlt(a), y2: yAlt(a), stroke: BLACK, 'stroke-width': 4 });
    
    
    plot.appendChild(bar);
  });
  const aecLine = svgEl('path', { d: curvePath(s.aecAlt, s.aecVal, xAec, yAlt), fill: 'none', stroke: BLACK, 'stroke-width': 4.4, 'stroke-linejoin': 'round', 'stroke-linecap': 'round' });
  
  
  plot.appendChild(aecLine);
}

drawPanel('a', 142.5, 972.2, 1599.5, { aecAlt: aAecAlt, aecVal: aAecVal, aecBarAlt: aAecBarAlt, aecBarLow: aAecBarLow, aecBarHigh: aAecBarHigh, pdrAlt: aPdrAlt, pdrVal: aPdrVal, pdrBarAlt: aPdrBarAlt, pdrBarLow: aPdrBarLow, pdrBarHigh: aPdrBarHigh });
drawPanel('b', 1202, 2031.3, 1599.5, { aecAlt: bAecAlt, aecVal: bAecVal, aecBarAlt: bAecBarAlt, aecBarLow: bAecBarLow, aecBarHigh: bAecBarHigh, pdrAlt: bPdrAlt, pdrVal: bPdrVal, pdrBarAlt: bPdrBarAlt, pdrBarLow: bPdrBarLow, pdrBarHigh: bPdrBarHigh });
drawPanel('c', 136.6, 965.6, 3381.1, { aecAlt: cAecAlt, aecVal: cAecVal, aecBarAlt: cAecBarAlt, aecBarLow: cAecBarLow, aecBarHigh: cAecBarHigh, pdrAlt: cPdrAlt, pdrVal: cPdrVal, pdrBarAlt: cPdrBarAlt, pdrBarLow: cPdrBarLow, pdrBarHigh: cPdrBarHigh });
drawPanel('d', 1202, 2031.3, 3381.1, { aecAlt: dAecAlt, aecVal: dAecVal, aecBarAlt: dAecBarAlt, aecBarLow: dAecBarLow, aecBarHigh: dAecBarHigh, pdrAlt: dPdrAlt, pdrVal: dPdrVal, pdrBarAlt: dPdrBarAlt, pdrBarLow: dPdrBarLow, pdrBarHigh: dPdrBarHigh });
</script>
</body>
</html>
